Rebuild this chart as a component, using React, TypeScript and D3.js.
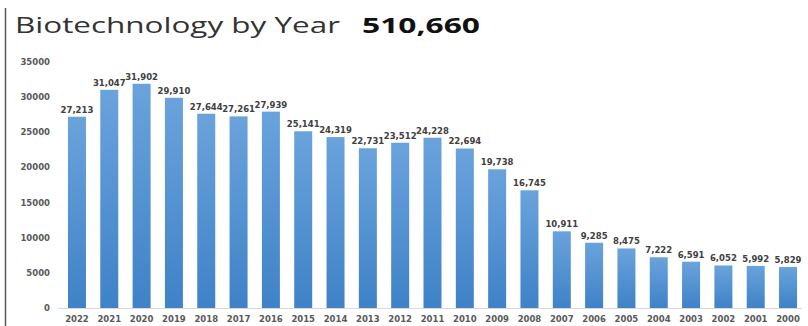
import React from "react";
import * as d3 from "d3";

const years = ["2022","2021","2020","2019","2018","2017","2016","2015","2014","2013","2012","2011","2010","2009","2008","2007","2006","2005","2004","2003","2002","2001","2000"];
const counts = [27213,31047,31902,29910,27644,27261,27939,25141,24319,22731,23512,24228,22694,19738,16745,10911,9285,8475,7222,6591,6052,5992,5829];
const yTicks = [0,5000,10000,15000,20000,25000,30000,35000];
const titleText = "Biotechnology by Year";
const totalText = "510,660";

export default function App() {
  const W = 808, H = 326;
  const x = d3.scaleBand<string>().domain(years).range([51.8, 813.2]).paddingInner(0.443).paddingOuter(0.5);
  const y = d3.scaleLinear().domain([0, 35000]).range([308, 62]);
  const fmt = d3.format(",");
  const labelFont = "'DejaVu Sans', Verdana, sans-serif";
  return (
    <svg width={W} height={H} style={{ position: "absolute", left: 0, top: 0, background: "#fff" }}>
      <defs>
        <linearGradient id="barGrad" x1="0" y1="0" x2="0" y2="1">
          <stop offset="0" stopColor="#6aa3dc" />
          <stop offset="1" stopColor="#3f82c7" />
        </linearGradient>
      </defs>
      <line x1={5.5} x2={5.5} y1={8} y2={326} stroke="#555" strokeWidth={1.5} />
      <text x={15} y={33} fontFamily="'Open Sans', sans-serif" fontSize={21} fill="#333" textLength={325} lengthAdjust="spacingAndGlyphs">
        {titleText}
      </text>
      <text x={362} y={33} fontFamily="'Open Sans', sans-serif" fontWeight="bold" fontSize={21} fill="#111" textLength={118} lengthAdjust="spacingAndGlyphs">
        {totalText}
      </text>
      <line x1={58} x2={802} y1={y(0) + 0.5} y2={y(0) + 0.5} stroke="#d9d9d9" strokeWidth={1} />
      {yTicks.map((t) => (
        <text key={t} x={50} y={y(t)} dy="0.35em" textAnchor="end" fontFamily={labelFont} fontWeight="bold" fontSize={8.5} fill="#595959">
          {t}
        </text>
      ))}
      {years.map((yr, i) => {
        const bx = x(yr)!;
        const v = counts[i];
        return (
          <g key={yr}>
            <rect x={bx} y={y(v)} width={x.bandwidth()} height={y(0) - y(v)} fill="url(#barGrad)" />
            <text x={bx + x.bandwidth() / 2} y={y(v) - 4} textAnchor="middle" fontFamily={labelFont} fontWeight="bold" fontSize={8.5} fill="#404040">
              {fmt(v)}
            </text>
            <text x={bx + x.bandwidth() / 2} y={321.5} textAnchor="middle" fontFamily={labelFont} fontWeight="bold" fontSize={8.5} fill="#595959">
              {yr}
            </text>
          </g>
        );
      })}
    </svg>
  );
}
